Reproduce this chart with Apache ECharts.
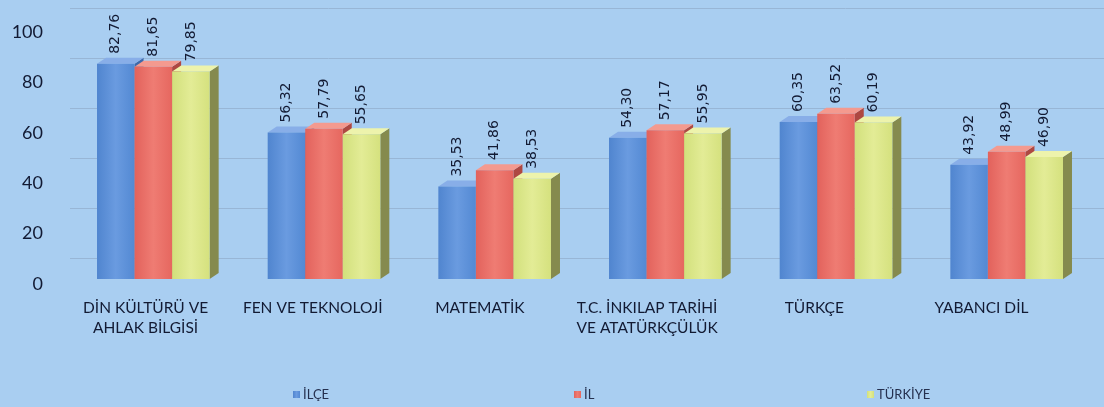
<!DOCTYPE html>
<html><head><meta charset="utf-8">
<script src="https://cdn.jsdelivr.net/npm/echarts@6/dist/echarts.min.js"></script>
<style>html,body{margin:0;padding:0;background:#A9CEF1;}#c{width:1104px;height:407px;}</style>
</head><body><div id="c"></div>
<script>
const categories = ['DİN KÜLTÜRÜ VE\nAHLAK BİLGİSİ','FEN VE TEKNOLOJİ','MATEMATİK','T.C. İNKILAP TARİHİ\nVE ATATÜRKÇÜLÜK','TÜRKÇE','YABANCI DİL'];
const seriesNames = ['İLÇE','İL','TÜRKİYE'];
const ilce = [82.76, 56.32, 35.53, 54.30, 60.35, 43.92];
const il = [81.65, 57.79, 41.86, 57.17, 63.52, 48.99];
const turkiye = [79.85, 55.65, 38.53, 55.95, 60.19, 46.90];
const yMin = 0, yMax = 100, yStep = 20;

const values = [ilce, il, turkiye];
const palette = [
  {front:['#5085CF','#6A9BE0','#5389D3'], top:'#88AEE8', side:'#3E69AA'},
  {front:['#E2625C','#EF7C73','#E6675F'], top:'#F49A8F', side:'#AE4842'},
  {front:['#D2E07C','#E3EC96','#D5E17E'], top:'#EDF3AC', side:'#858A4E'}
];
const GAP = 0.34, DX = 9, DY = 6;
const FONT = 'Lato';
const txt = '#121A33';

function grad(c){
  return new echarts.graphic.LinearGradient(0,0,1,0,[{offset:0,color:c[0]},{offset:0.5,color:c[1]},{offset:1,color:c[2]}]);
}
function fmt(v){ return v.toFixed(2).replace('.', ','); }

const series = [];
values.forEach((vals, si) => {
  series.push({
    name: seriesNames[si], type: 'bar', xAxisIndex: 0, yAxisIndex: 0,
    data: vals, barGap: '0%', barCategoryGap: (GAP*100)+'%', z: 3,
    itemStyle: {color: grad(palette[si].front)},
    label: {show: true, position: 'top', rotate: 90, align: 'left', verticalAlign: 'middle',
      distance: DY + 4, formatter: p => fmt(p.value), fontFamily: 'DejaVu Sans', fontSize: 14, color: txt}
  });
});
values.forEach((vals, si) => {
  series.push({
    name: seriesNames[si], type: 'custom', xAxisIndex: 0, yAxisIndex: 0, z: 1,
    data: vals.map((v, i) => [i, v]), encode: {x: 0, y: 1},
    renderItem: function(params, api){
      const cat = api.value(0), v = api.value(1);
      const p = api.coord([cat, v]), p0 = api.coord([cat, 0]);
      const band = api.size([1, 0])[0];
      const gw = band * (1 - GAP), bw = gw / 3;
      const x = p[0] - gw / 2 + si * bw;
      const col = palette[si];
      return {type: 'group', children: [
        {type: 'polygon', shape: {points: [[x+bw, p[1]], [x+bw+DX, p[1]-DY], [x+bw+DX, p0[1]-DY], [x+bw, p0[1]]]},
          style: {fill: col.side}},
        {type: 'polygon', shape: {points: [[x, p[1]], [x+DX, p[1]-DY], [x+bw+DX, p[1]-DY], [x+bw, p[1]]]},
          style: {fill: col.top}}
      ]};
    }
  });
});

const legendLefts = [288, 569, 862];
const option = {
  backgroundColor: '#A9CEF1',
  animation: false,
  grid: [
    {left: 68, right: 12, top: 19, bottom: 128},
    {left: 70, right: 0, top: 8, bottom: 149},
    {left: 62, right: 39, top: 32, bottom: 123}
  ],
  xAxis: [
    {type: 'category', gridIndex: 0, data: categories, show: false},
    {type: 'category', gridIndex: 1, data: categories, show: false},
    {type: 'category', gridIndex: 2, data: categories, axisLine: {show: false}, axisTick: {show: false},
      axisLabel: {margin: 14, interval: 0, align: 'center', fontFamily: FONT, fontSize: 15.5, color: txt, lineHeight: 20}}
  ],
  yAxis: [
    {type: 'value', gridIndex: 0, min: yMin, max: yMax, interval: yStep, show: false},
    {type: 'value', gridIndex: 1, min: yMin, max: yMax, interval: yStep, axisLabel: {show: false},
      axisLine: {show: false}, axisTick: {show: false}, splitLine: {lineStyle: {color: '#98B6D6', width: 1}}},
    {type: 'value', gridIndex: 2, min: yMin, max: yMax, interval: yStep, splitLine: {show: false},
      axisLine: {show: false}, axisTick: {show: false},
      axisLabel: {margin: 19, fontFamily: FONT, fontSize: 18, color: txt}}
  ],
  legend: legendLefts.map((l, i) => ({
    data: [seriesNames[i]], left: l, top: 383, icon: 'rect', itemWidth: 7, itemHeight: 7, itemGap: 3,
    textStyle: {fontFamily: FONT, fontSize: 13, color: '#25304F', padding: [0,0,0,-2]}, selectedMode: false
  })),
  series: series
};
echarts.init(document.getElementById('c')).setOption(option);
</script>
</body></html>
